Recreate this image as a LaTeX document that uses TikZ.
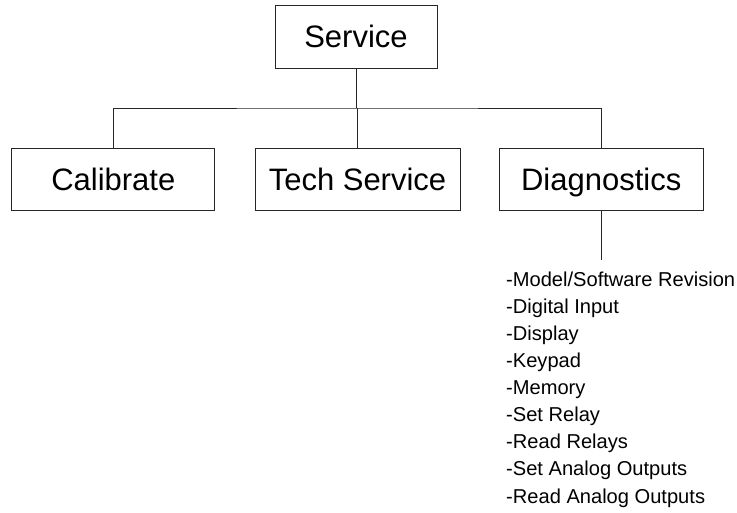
\documentclass[tikz,border=0pt]{standalone}
\usepackage{fontspec}
\setmainfont{Liberation Sans}
\begin{document}
\begin{tikzpicture}[x=1pt,y=-1pt,
  box/.style={draw=black!85,line width=0.9pt,inner sep=0pt,text height=22.2pt,text depth=0pt,font=\fontsize{31}{36}\selectfont},
  conn/.style={draw=black!85,line width=0.9pt},
  item/.style={anchor=base west,inner sep=0pt,font=\fontsize{20.1}{24}\selectfont}]
\useasboundingbox (0,0) rectangle (737,512);
\node[box,minimum width=162pt,minimum height=63pt] (service) at (356,36.5) {Service};
\node[box,minimum width=203pt,minimum height=62pt] (cal) at (113.3,179) {Calibrate};
\node[box,minimum width=205pt,minimum height=62pt] (tech) at (357.5,179) {Tech Service};
\node[box,minimum width=204pt,minimum height=62pt] (diag) at (601.2,179) {Diagnostics};
\coordinate (bus) at (357.5,108);
\coordinate (dend) at (601.2,260);
\draw[conn] (service.south) -- (service.south |- bus);
\draw[conn] (cal.north) |- (bus) -| (diag.north);
\draw[conn] (tech.north) -- (tech.north |- bus);
\draw[conn] (diag.south) -- (dend);
\node[item] (i1) at (506,286) {-Model/Software Revision};
\node[item] (i2) at (506,313.1) {-Digital Input};
\node[item] (i3) at (506,340.2) {-Display};
\node[item] (i4) at (506,367.4) {-Keypad};
\node[item] (i5) at (506,394.5) {-Memory};
\node[item] (i6) at (506,421.6) {-Set Relay};
\node[item] (i7) at (506,448.7) {-Read Relays};
\node[item] (i8) at (506,475.9) {-Set Analog Outputs};
\node[item] (i9) at (506,503) {-Read Analog Outputs};
\end{tikzpicture}
\end{document}
